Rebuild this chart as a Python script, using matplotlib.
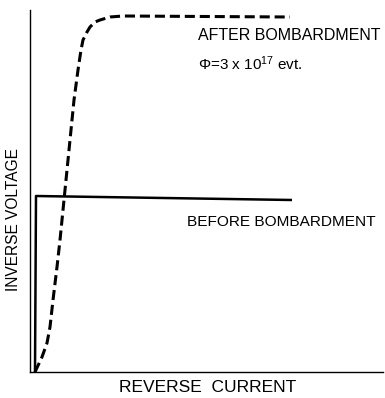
import matplotlib
matplotlib.use("Agg")
import matplotlib.pyplot as plt

plt.rcParams['font.family'] = ['Liberation Sans', 'DejaVu Sans']
plt.rcParams['mathtext.default'] = 'regular'

# reverse current (arbitrary units) vs inverse voltage (arbitrary units)
before_current = [5, 6, 262]
before_voltage = [0, 176, 172]

after_current = [5, 12, 17, 20, 23, 27, 30, 33, 35, 44, 48, 51, 53, 57, 60, 65, 70, 80, 93, 260]
after_voltage = [0, 15, 29, 45, 72, 105, 132, 162, 182, 272, 302, 322, 332, 340, 345, 350, 352, 355, 356, 355]

after_label = "AFTER BOMBARDMENT"
dose_label = "Φ=3 x 10$^{17}$ evt."
before_label = "BEFORE BOMBARDMENT"

W, H = 385, 398
fig = plt.figure(figsize=(W / 100, H / 100), dpi=100)
ax = fig.add_axes([30 / W, (H - 372) / H, 353 / W, 362 / H])
ax.set_xlim(0, 353)
ax.set_ylim(0, 362)

ax.plot(before_current, before_voltage, color='black', lw=1.8, solid_capstyle='butt')
ax.plot(after_current, after_voltage, color='black', lw=2.2, dashes=(3.3, 1.6))

ax.text(168, 336, after_label, fontsize=11.5, va='center', ha='left')
ax.text(168, 308, dose_label, fontsize=11, va='center', ha='left')
ax.text(157, 150, before_label, fontsize=11.1, va='center', ha='left')

for side in ('top', 'right'):
    ax.spines[side].set_visible(False)
for side in ('left', 'bottom'):
    ax.spines[side].set_linewidth(1.0)
ax.set_xticks([])
ax.set_yticks([])

fig.text(208 / W, 1 - 387 / H, "REVERSE  CURRENT", fontsize=12.5, ha='center', va='center')
fig.text(14 / W, 1 - 220 / H, "INVERSE VOLTAGE", fontsize=11.2, ha='center', va='center',
         rotation=90)

fig.savefig("out.png", dpi=100)
